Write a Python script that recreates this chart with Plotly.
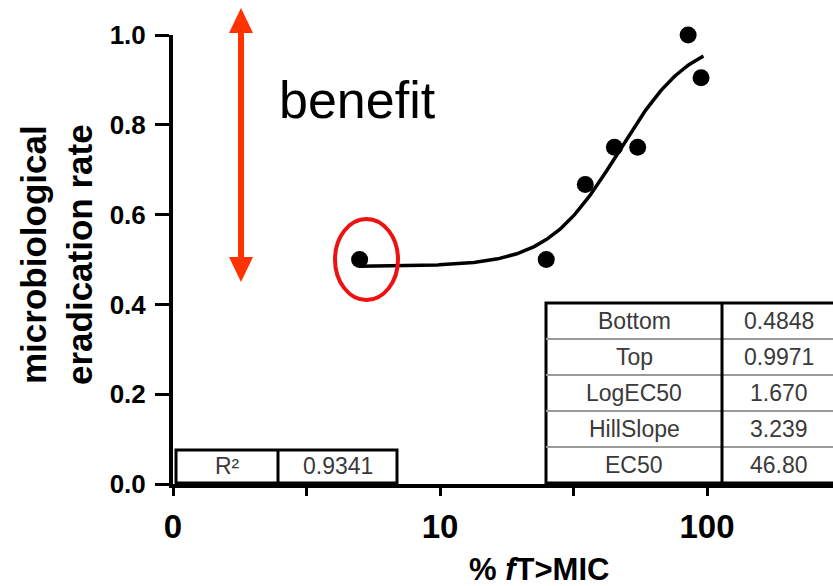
import numpy as np
import plotly.graph_objects as go

# ---- data ----
pct_ft_mic = [5, 25, 35, 45, 55, 85, 95]
eradication = [0.50, 0.50, 0.667, 0.75, 0.75, 1.00, 0.905]

# fitted sigmoid parameters (as printed in the chart's table)
param_names = ["Bottom", "Top", "LogEC50", "HillSlope", "EC50"]
param_values = ["0.4848", "0.9971", "1.670", "3.239", "46.80"]
BOTTOM, TOP, LOGEC50, HILL = 0.4848, 0.9971, 1.670, 3.239
r2_label, r2_value = "R²", "0.9341"

x_tickvals = [1, 3.1623, 10, 31.623, 100, 316.23]
x_ticktext = ["0", "", "10", "", "100", ""]
y_tickvals = [0.0, 0.2, 0.4, 0.6, 0.8, 1.0]

# fitted curve from the printed parameters
curve_x = np.logspace(np.log10(5), np.log10(97), 200)
curve_y = BOTTOM + (TOP - BOTTOM) / (1 + 10 ** ((LOGEC50 - np.log10(curve_x)) * HILL))

W, H = 833, 586
L, R, T, B = 173, 0, 35, 102
PW, PH = W - L - R, H - T - B
FONT = "Liberation Sans, Arial, sans-serif"


def px(x):
    return (x - L) / PW


def py(y):
    return (H - B - y) / PH


def note(x, y, text, font, **kw):
    d = dict(xref="paper", yref="paper", x=x, y=y, text=text, showarrow=False,
             xanchor="center", yanchor="middle", font=font)
    d.update(kw)
    return d


fig = go.Figure()
fig.add_trace(go.Scatter(x=curve_x, y=curve_y, mode="lines",
                         line=dict(color="black", width=3.5),
                         hoverinfo="skip", cliponaxis=False))
fig.add_trace(go.Scatter(x=pct_ft_mic, y=eradication, mode="markers",
                         marker=dict(color="black", size=17),
                         cliponaxis=False))

shapes = []
annotations = []

# red double arrow
red = "#FF3300"
ax = px(241)
hw = 12 / PW
shapes.append(dict(type="line", xref="paper", yref="paper",
                   x0=ax, x1=ax, y0=py(30), y1=py(260),
                   line=dict(color=red, width=6)))
shapes.append(dict(type="path", xref="paper", yref="paper",
                   path=f"M {ax-hw} {py(33)} L {ax} {py(8)} L {ax+hw} {py(33)} Z",
                   fillcolor=red, line=dict(color=red, width=0)))
shapes.append(dict(type="path", xref="paper", yref="paper",
                   path=f"M {ax-hw} {py(257)} L {ax} {py(282)} L {ax+hw} {py(257)} Z",
                   fillcolor=red, line=dict(color=red, width=0)))

# red ellipse around the first point
shapes.append(dict(type="circle", xref="paper", yref="paper",
                   x0=px(335), x1=px(398), y0=py(300), y1=py(219),
                   line=dict(color="#EE1111", width=4)))

# R² table
tfont = dict(family=FONT, size=23, color="#3a3a3a")
tx0, tdiv, tx1 = px(176), px(278), px(397)
ty0, ty1 = py(483), py(450)
shapes.append(dict(type="rect", xref="paper", yref="paper",
                   x0=tx0, x1=tx1, y0=ty0, y1=ty1,
                   fillcolor="white", line=dict(color="black", width=3)))
shapes.append(dict(type="line", xref="paper", yref="paper",
                   x0=tdiv, x1=tdiv, y0=ty0, y1=ty1,
                   line=dict(color="black", width=3)))
annotations.append(note((tx0 + tdiv) / 2, py(466), r2_label, tfont))
annotations.append(note((tdiv + tx1) / 2, py(466), r2_value, tfont))

# parameter table
bx0, bdiv, bx1 = px(546), px(722), px(837)
row_edges = [303, 339, 375, 411, 447, 483]
shapes.append(dict(type="rect", xref="paper", yref="paper",
                   x0=bx0, x1=bx1, y0=py(row_edges[-1]), y1=py(row_edges[0]),
                   fillcolor="white", line=dict(color="black", width=3)))
for e in row_edges[1:-1]:
    shapes.append(dict(type="line", xref="paper", yref="paper",
                       x0=bx0, x1=bx1, y0=py(e), y1=py(e),
                       line=dict(color="#9a9a9a", width=2)))
shapes.append(dict(type="line", xref="paper", yref="paper",
                   x0=bdiv, x1=bdiv, y0=py(row_edges[-1]), y1=py(row_edges[0]),
                   line=dict(color="black", width=3)))
for i, (nm, val) in enumerate(zip(param_names, param_values)):
    yc = py((row_edges[i] + row_edges[i + 1]) / 2)
    annotations.append(note((bx0 + bdiv) / 2, yc, nm, tfont))
    annotations.append(note(px(779), yc, val, tfont))

# "benefit" label
annotations.append(note(px(277), py(100), "benefit",
                        dict(family=FONT, size=52, color="black"),
                        xanchor="left"))

# axis titles
annotations.append(note(px(539), py(569), "<b>% <i>f</i>T>MIC</b>",
                        dict(family=FONT, size=31, color="black")))
annotations.append(note(px(57), py(255),
                        "<b>microbiological<br>eradication rate</b>",
                        dict(family=FONT, size=35, color="black"),
                        textangle=-90))

fig.update_layout(
    width=W, height=H,
    margin=dict(l=L, r=R, t=T, b=B, pad=0, autoexpand=False),
    paper_bgcolor="white", plot_bgcolor="white",
    showlegend=False,
    shapes=shapes, annotations=annotations,
    xaxis=dict(type="log", range=[0, (W - L) / 267],
               tickvals=x_tickvals, ticktext=x_ticktext,
               showgrid=False, zeroline=False, automargin=False,
               showline=True, linecolor="black", linewidth=4,
               ticks="outside", ticklen=8, tickwidth=3, tickcolor="black",
               tickfont=dict(family=FONT, size=33, color="black", weight="bold"),
               ticklabelstandoff=2),
    yaxis=dict(range=[0, 1.0], tickvals=y_tickvals, tickformat=".1f",
               showgrid=False, zeroline=False, automargin=False,
               showline=True, linecolor="black", linewidth=4,
               ticks="outside", ticklen=14, tickwidth=3, tickcolor="black",
               tickfont=dict(family=FONT, size=26, color="black", weight="bold"),
               ticklabelstandoff=4),
)

fig.write_html(
    "out.html",
    config={"displayModeBar": False},
    post_script="document.body.style.margin='0';document.body.style.overflow='hidden';",
)
